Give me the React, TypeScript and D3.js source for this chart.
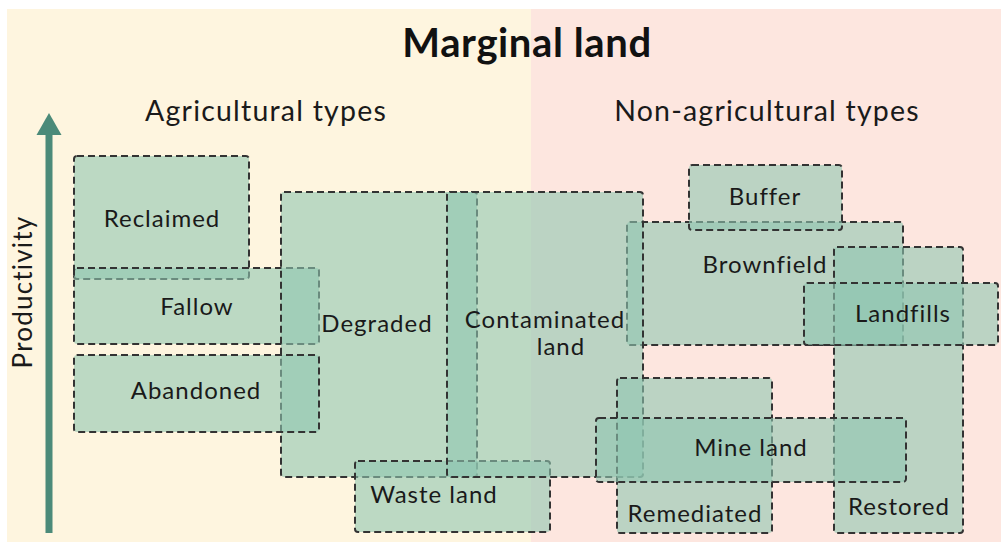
import React from 'react';
import * as d3 from 'd3';

// Marginal land types, in drawing order (later boxes sit on top)
const names = [
  'Reclaimed', 'Fallow', 'Degraded', 'Abandoned', 'Waste land', 'Brownfield',
  'Contaminated', 'Buffer', 'Restored', 'Landfills', 'Remediated', 'Mine land',
];
// horizontal extent (arbitrary units 0-100)
const xStart = [7.4, 7.4, 28.1, 7.4, 35.5, 62.7, 44.7, 68.9, 83.4, 80.4, 61.7, 59.6];
const xEnd = [24.9, 31.9, 47.7, 31.9, 55.0, 90.3, 64.3, 84.2, 96.3, 99.8, 77.2, 90.6];
// productivity extent (arbitrary units, 0 = low)
const yLow = [26.1, 19.6, 6.3, 10.8, 0.8, 19.5, 6.3, 31.0, 0.7, 19.5, 0.7, 5.8];
const yHigh = [38.4, 27.2, 34.8, 18.5, 7.9, 31.8, 34.8, 37.5, 29.3, 25.7, 16.2, 12.2];
// label anchor (centre x, baseline y) in the same units
const labelX = [16.2, 19.7, 37.7, 19.6, 43.4, 76.5, 54.5, 76.5, 89.9, 90.3, 69.5, 75.1];
const labelY = [31.3, 22.5, 20.8, 14.1, 3.7, 26.7, 21.2, 33.5, 2.5, 21.8, 1.8, 8.4];

const groups = ['Agricultural types', 'Non-agricultural types'];
const groupCenter = [26.6, 76.7];

const W = 1001;
const H = 542;
const font = 'Lato, "Noto Sans", sans-serif';

const App: React.FC = () => {
  const x = d3.scaleLinear().domain([0, 100]).range([0, 1000]);
  const y = d3.scaleLinear().domain([0, 54]).range([540, 0]);

  const boxes = names.map((name, i) => ({
    name,
    x0: x(xStart[i]),
    x1: x(xEnd[i]),
    y0: y(yHigh[i]),
    y1: y(yLow[i]),
    lx: x(labelX[i]),
    ly: y(labelY[i]),
  }));

  return (
    <svg width={W} height={H} style={{ position: 'absolute', left: 0, top: 0, fontFamily: font }}>
      {/* background halves */}
      <rect x={7} y={9} width={531 - 7} height={H - 9} fill="#fef5df" />
      <rect x={531} y={9} width={W - 531} height={H - 9} fill="#fde6df" />

      <text x={527} y={57} textAnchor="middle" fontSize={40} fontWeight="bold" letterSpacing={0.6} fill="#111">
        Marginal land
      </text>
      {groups.map((g, i) => (
        <text key={g} x={x(groupCenter[i])} y={121} textAnchor="middle" fontSize={28.5} letterSpacing={1.2} fill="#1a1a1a">
          {g}
        </text>
      ))}

      {/* productivity arrow */}
      <rect x={45.5} y={130} width={7} height={403} fill="#4b8a79" />
      <path d="M49,113 L61.5,135 L36.5,135 Z" fill="#4b8a79" />
      <text transform="translate(32,292) rotate(-90)" textAnchor="middle" fontSize={26} letterSpacing={1.2} fill="#1a1a1a">
        Productivity
      </text>

      {boxes.map(b => (
        <rect
          key={b.name}
          x={b.x0}
          y={b.y0}
          width={b.x1 - b.x0}
          height={b.y1 - b.y0}
          rx={3}
          fill="#90c6b0"
          fillOpacity={0.6}
          stroke="#333"
          strokeWidth={2}
          strokeDasharray="7 4"
        />
      ))}

      {boxes.map(b =>
        b.name === 'Contaminated' ? (
          <text key={b.name} textAnchor="middle" fontSize={24} letterSpacing={1} fill="#1a1a1a">
            <tspan x={b.lx} y={b.ly}>Contaminated</tspan>
            <tspan x={b.lx + 16} y={b.ly + 27}>land</tspan>
          </text>
        ) : (
          <text key={b.name} x={b.lx} y={b.ly} textAnchor="middle" fontSize={24} letterSpacing={1} fill="#1a1a1a">
            {b.name}
          </text>
        )
      )}
    </svg>
  );
};

export default App;
